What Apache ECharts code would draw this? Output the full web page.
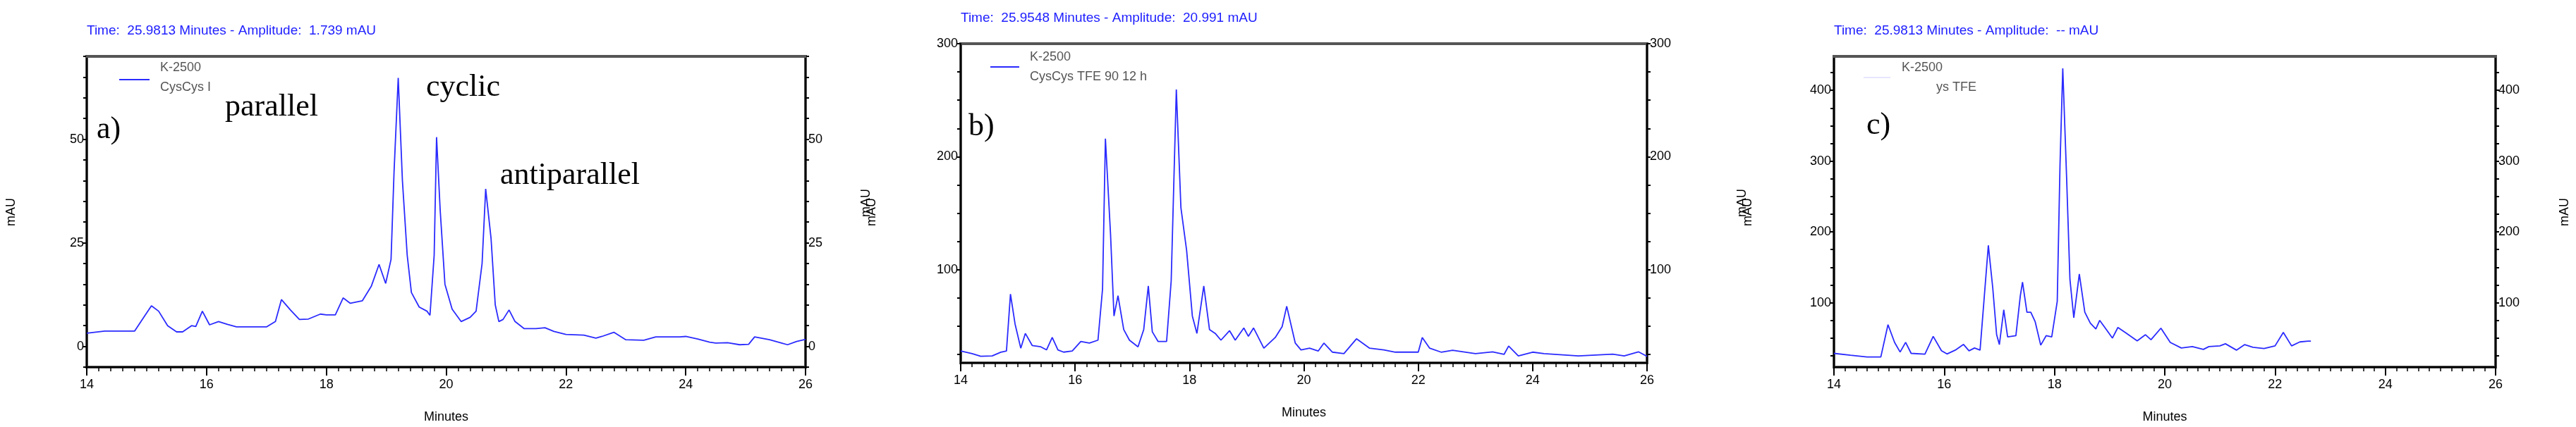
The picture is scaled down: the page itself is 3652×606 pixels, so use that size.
<!DOCTYPE html>
<html><head><meta charset="utf-8">
<script src="https://cdn.jsdelivr.net/npm/echarts@6/dist/echarts.min.js"></script>
<style>html,body{margin:0;background:#fff}#c{width:3652px;height:606px}</style>
</head><body><div id="c"></div>
<script>
const xTicks=[14,16,18,20,22,24,26];
const tA=[14.0,14.3,14.8,14.95,15.08,15.2,15.35,15.5,15.6,15.75,15.82,15.93,16.05,16.2,16.35,16.5,17.0,17.15,17.25,17.4,17.55,17.7,17.9,18.0,18.15,18.28,18.4,18.6,18.75,18.88,18.99,19.08,19.13,19.2,19.27,19.35,19.42,19.55,19.68,19.73,19.8,19.84,19.9,19.98,20.1,20.25,20.4,20.5,20.6,20.66,20.75,20.82,20.88,20.95,21.05,21.15,21.3,21.5,21.65,21.8,22.0,22.3,22.5,22.6,22.8,23.0,23.3,23.5,23.9,24.0,24.2,24.4,24.5,24.7,24.9,25.05,25.15,25.4,25.6,25.7,25.85,26.0];
const yA=[3.2,3.7,3.7,7,9.8,8.5,5,3.5,3.5,5,4.8,8.5,5.2,6,5.3,4.7,4.7,6,11.3,8.8,6.5,6.6,7.8,7.6,7.6,11.7,10.4,11,14.5,19.8,15.2,21,42,64.8,40,22,13,9.5,8.5,7.5,22,50.5,33,15,9,6,7,8.5,20,38,26,10,6,6.5,8.8,6,4.3,4.3,4.5,3.6,2.9,2.7,2.0,2.4,3.4,1.6,1.5,2.3,2.3,2.4,1.8,1.0,0.8,0.9,0.4,0.5,2.3,1.6,0.8,0.4,1.2,1.7];
const tB=[14.0,14.2,14.35,14.55,14.7,14.8,14.87,14.95,15.05,15.13,15.25,15.4,15.5,15.6,15.7,15.8,15.95,16.1,16.25,16.4,16.48,16.53,16.62,16.68,16.75,16.85,16.95,17.1,17.2,17.28,17.35,17.45,17.6,17.68,17.77,17.85,17.95,18.05,18.13,18.25,18.35,18.45,18.55,18.7,18.8,18.95,19.03,19.12,19.3,19.5,19.62,19.7,19.85,19.95,20.1,20.25,20.35,20.5,20.7,20.92,21.15,21.4,21.6,22.0,22.07,22.2,22.4,22.6,23.0,23.3,23.5,23.58,23.75,24.0,24.2,24.8,25.4,25.6,25.85,26.0];
const yB=[28,25.7,23.3,23.7,26.9,28,78.4,52,30.5,43.6,32.9,31.7,29,40,29,27,28,36.5,35,37.6,83,216,131,59,77,47,37.6,31.7,47,85.6,45,36.5,36.5,90,259.5,155,117,59,43.6,85.6,47,43.6,37.6,46,37.6,48.4,41,48.4,30.5,40,49.6,67.6,35,29,30.5,28,35,27,25.7,38.8,30.5,29,27,27,40,30.5,27,28.6,25.7,27.3,25,32.4,23.7,27,25.7,23.7,25.2,23.7,27.3,23.3];
const tC=[14.0,14.3,14.6,14.85,14.98,15.1,15.2,15.3,15.4,15.65,15.8,15.95,16.05,16.2,16.35,16.45,16.55,16.65,16.72,16.8,16.88,16.95,17.0,17.08,17.15,17.3,17.38,17.42,17.5,17.57,17.65,17.75,17.85,17.95,18.05,18.1,18.15,18.22,18.28,18.35,18.45,18.55,18.65,18.75,18.82,18.95,19.05,19.15,19.3,19.5,19.65,19.75,19.93,20.1,20.3,20.5,20.7,20.8,21.0,21.1,21.3,21.45,21.6,21.8,22.0,22.15,22.3,22.45,22.6,22.65];
const yC=[28.4,25.7,23.3,23.3,69,43.9,30.3,44,28.4,27.2,52.4,32.2,27.6,33,41,32,36,33,102,181,121,55,40.8,90,51.6,53.5,109.7,129,86.5,86.5,73,40,53.5,51.6,102,295,431,276,133,78.7,140.6,86.5,71,63,75,61,50,65,57,46,54.7,47.7,64,43.9,36,38,34,38,39,42,33,40.8,36.9,35.3,39,58,39,44.6,45.8,45.8];
const yTicksA=[0,25,50], yTicksB=[100,200,300], yTicksC=[100,200,300,400];
const pair=(t,y)=>t.map((v,i)=>[v,y[i]]);
const LINE='#2b2bff', FN='"Liberation Sans Narrow","Liberation Sans",sans-serif';
const panels=[
 {grid:{left:123,right:2510,top:80,bottom:85},min:-5,max:70,step:5,ticks:yTicksA,data:pair(tA,yA)},
 {grid:{left:1362,right:1317,top:62,bottom:91},min:17.5,max:300,step:25,ticks:yTicksB,data:pair(tB,yB),start:25},
 {grid:{left:2600,right:114,top:80,bottom:85},min:9,max:448,step:25,ticks:yTicksC,data:pair(tC,yC),start:25}
];
const range=(a,b,s)=>{const r=[];for(let v=a;v<=b+1e-9;v+=s)r.push(+v.toFixed(3));return r;};
const grid=[],xAxis=[],yAxis=[],series=[];
panels.forEach((p,i)=>{
 grid.push(Object.assign({show:true,borderColor:'#555',borderWidth:4,backgroundColor:'transparent'},p.grid));
 const minorVals=range(p.start!==undefined?p.start:p.min,p.max,p.step).filter(v=>v>=p.min);
 xAxis.push({type:'value',gridIndex:i,min:14,max:26,interval:2,
  axisLine:{onZero:false,lineStyle:{color:'#000',width:2}},
  axisTick:{length:12,lineStyle:{color:'#000',width:2}},
  minorTick:{show:true,splitNumber:10,length:6,lineStyle:{color:'#000',width:1.5}},
  axisLabel:{fontFamily:FN,fontSize:18,color:'#000',margin:16},
  splitLine:{show:false},name:'Minutes',nameLocation:'middle',nameGap:62,
  nameTextStyle:{fontFamily:FN,fontSize:18,color:'#000'}});
 [ 'left','right'].forEach(pos=>{
  yAxis.push({type:'value',gridIndex:i,position:pos,min:p.min,max:p.max,
   axisLine:{show:true,onZero:false,lineStyle:{color:'#000',width:2}},
   axisTick:{show:true,customValues:minorVals,length:5,lineStyle:{color:'#000',width:2}},
   axisLabel:{customValues:p.ticks,fontFamily:FN,fontSize:18,color:'#000',margin:4},
   splitLine:{show:false}});
 });
 series.push({type:'line',xAxisIndex:i,yAxisIndex:i*2,data:p.data,showSymbol:false,
  lineStyle:{color:LINE,width:1.8},itemStyle:{color:LINE},silent:true,animation:false});
});
const txt=(x,y,s,o)=>Object.assign({type:'text',left:x,top:y,style:Object.assign({text:s,fontFamily:FN,fontSize:18,fill:'#000'},o||{})});
const blue={fill:'#2020ff',fontSize:19};
const serif={fontFamily:'"Liberation Serif",serif',fontSize:44,fill:'#000'};
const gray={fill:'#555',fontSize:18};
const rot=(x,y)=>({type:'text',x:x,y:y,rotation:Math.PI/2,style:{text:'mAU',fontFamily:FN,fontSize:18,fill:'#000',align:'center',verticalAlign:'middle'}});
const graphic=[
 {type:'line',shape:{x1:122,y1:80,x2:1143,y2:80},style:{stroke:'#555',lineWidth:4},z:10},
 {type:'line',shape:{x1:2599,y1:80,x2:3539,y2:80},style:{stroke:'#555',lineWidth:4},z:10},
 txt(123,34,'Time:  25.9813 Minutes - Amplitude:  1.739 mAU',blue),
 txt(1362,16,'Time:  25.9548 Minutes - Amplitude:  20.991 mAU',blue),
 txt(2600,34,'Time:  25.9813 Minutes - Amplitude:  -- mAU',blue),
 txt(137,162,'a)',serif),txt(319,130,'parallel',serif),txt(604,102,'cyclic',serif),txt(709,227,'antiparallel',serif),
 txt(1373,158,'b)',serif),txt(2646,156,'c)',serif),
 txt(227,87,'K-2500',gray),txt(227,115,'CysCys I',gray),
 txt(1460,72,'K-2500',gray),txt(1460,100,'CysCys TFE 90 12 h',gray),
 txt(2696,87,'K-2500',gray),txt(2745,115,'ys TFE',gray),
 {type:'line',shape:{x1:169,y1:113,x2:212,y2:113},style:{stroke:LINE,lineWidth:2}},
 {type:'line',shape:{x1:1404,y1:95,x2:1445,y2:95},style:{stroke:LINE,lineWidth:2}},
 {type:'line',shape:{x1:2642,y1:110,x2:2680,y2:110},style:{stroke:'#e6e6ff',lineWidth:2}},
 rot(16,301),rot(1236,301),rot(1228,288),rot(2478,301),rot(2470,288),rot(3636,301)
];
const chart=echarts.init(document.getElementById('c'));
chart.setOption({animation:false,backgroundColor:'#fff',grid,xAxis,yAxis:yAxis,series,graphic});
</script></body></html>
